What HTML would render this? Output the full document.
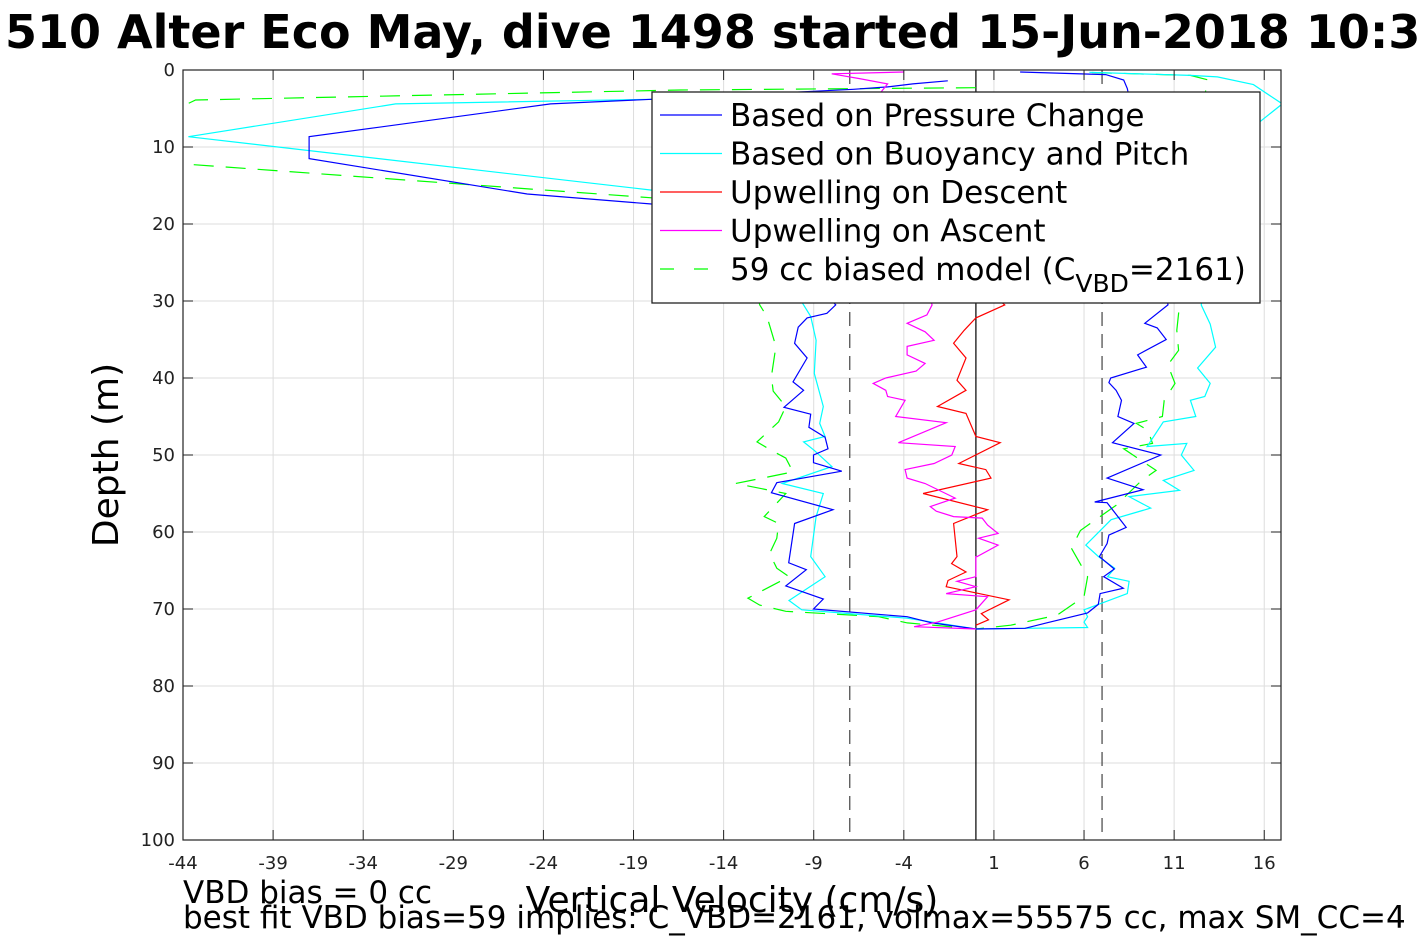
<!DOCTYPE html>
<html><head><meta charset="utf-8"><style>
body{margin:0;background:#fff;overflow:hidden}
svg{display:block;font-family:"DejaVu Sans","Liberation Sans",sans-serif}
</style></head><body>
<svg id="c" width="1417" height="945" viewBox="0 0 1417 945">
<defs><clipPath id="pc"><rect x="183" y="70" width="1098" height="770"/></clipPath></defs>
<text x="5" y="48" font-size="46" font-weight="bold">510 Alter Eco May, dive 1498 started 15-Jun-2018 10:3</text>
<g id="grid"></g><g id="plot" clip-path="url(#pc)"></g><g id="axes"></g>
<text transform="translate(118,455) rotate(-90)" text-anchor="middle" font-size="36">Depth (m)</text>
<text x="732" y="912" text-anchor="middle" font-size="36">Vertical Velocity (cm/s)</text>
<text x="183" y="903" font-size="31">VBD bias = 0 cc</text>
<text x="183" y="928" font-size="31">best fit VBD bias=59 implies: C_VBD=2161, volmax=55575 cc, max SM_CC=4</text>
<g id="legend">
<rect x="652" y="92" width="608" height="211" fill="#fff" stroke="#222" stroke-width="1.3"/>
</g>
</svg>
<script>
const xTicks=[-44,-39,-34,-29,-24,-19,-14,-9,-4,1,6,11,16];
const yTicks=[0,10,20,30,40,50,60,70,80,90,100];
const refLines=[-7,0,7];
const pressV=[-1.56,-3.5,-4.9,-6.8,-18,-23.6,-37,-37,-24.9,-18,-10,-7.78,-8.27,-9.37,-9.86,-10.06,-9.37,-10.15,-9.56,-10.65,-9.17,-9.27,-8.37,-8.21,-9.01,-9.01,-7.44,-11.05,-11.35,-7.93,-10.06,-10.39,-9.41,-10.55,-8.47,-9.01,-3.82,-2.43,0,2.73,3.91,6.2,6.79,6.89,8.18,7.09,7.68,6.85,7.28,7.38,8.34,7.68,7.28,6.59,9.27,7.28,10.26,7.58,8.77,7.88,8.08,7.78,7.38,7.48,9.46,8.97,10.56,10.06,9.37,10.66,10,8.4,8.2,7.2,2.45];
const pressD=[1.4,1.8,2.2,2.5,3.8,4.4,8.66,11.5,16.1,17.4,25,30.5,31.6,32.2,33.4,35.5,37.4,40.5,41.6,43.8,44.7,46.4,47.7,49.2,50,51,52.1,53.6,54.9,57.1,58.9,64,64.9,67,68.7,70,71,71.8,72.6,72.5,71.8,70.5,69.4,68,67.3,65.8,64.8,63.2,61.5,60.4,59.4,57.4,56.2,56.1,54.5,53,50,48.4,45.9,45,42.9,41.6,40.6,40,38.6,37,35,33.5,32.9,30.5,20,2.4,1.3,0.6,0.26];
const buoyV=[-5,-18,-32.2,-43.7,-18,-11,-9.56,-9.17,-8.87,-8.97,-8.47,-8.67,-8.37,-9.56,-8.97,-7.99,-10.75,-8.47,-8.87,-9.17,-8.37,-10.37,-9.66,-3.82,-2.43,0,6.2,6.0,6.2,6.0,8.4,8.5,7.3,7.7,6.8,6.1,7.5,9.7,8.5,11.3,10.4,12.1,11.4,11.7,9.5,10.4,12.2,11.9,12.7,13.0,12.3,13.3,13.0,12.5,13.5,14,17,15.4,13.4,11.9,6.3];
const buoyD=[3.6,3.8,4.4,8.66,15.6,25,30.5,32.0,35.1,39.4,43.7,45.9,47.6,48.3,49.4,51.5,53.7,55.0,58.0,63.2,65.8,68.9,70.1,71.2,71.7,72.6,72.4,71.7,71.0,70.1,68,66.4,65.8,64.7,63.2,61.7,58.4,56.9,55.4,54.6,53.3,52,50,48.5,48.9,45.7,45,42.9,42.4,40.7,38.7,36,33,30.5,20,10,4.4,1.9,0.9,0.7,0.3];
const descV=[-1,-2,-1,1.6,0,-0.65,-1.24,-0.55,-1.05,-0.55,-2.13,-0.55,0,1.35,-0.95,0.55,0.84,-2.93,0.65,-1.24,-1.05,-1.35,-0.55,-1.55,-1.65,1.84,0.3,0.7,0];
const descD=[5,15,25,30.5,32.2,33.8,35.5,37.4,40.3,41.6,43.7,44.6,47.6,48.4,51.1,51.9,53,55,57.1,58.9,63.2,64.1,65.2,66.3,67.1,68.8,70.6,71.4,72.1];
const ascV=[0,-3.43,-2.13,0,0.65,-1.65,0,-1.05,0,0,0.06,1.23,0.15,1.23,0.65,0.35,-1.24,-2.2,-2.53,-1.15,-2.82,-3.82,-3.93,-2.32,-1.34,-1.15,-4.3,-1.65,-4.45,-3.93,-4.9,-5.0,-5.7,-5.0,-3.32,-2.82,-3.82,-3.82,-2.32,-2.82,-3.82,-2.72,-2.43,-4,-6,-4.9,-6.5,-8,-4.0];
const ascD=[72.6,72.3,71.7,70.1,68.4,68,67.1,66.4,65.8,63.2,63.2,61.7,60.8,60.2,59.1,58.2,58,57.3,56.7,55.6,53.7,53,51.9,51.1,50,48.9,48.4,45.8,45,42.9,42.4,41.6,40.7,40,39.1,38.1,37,35.9,35.1,34,32.9,31.8,30.5,20,5,1.8,1.1,0.5,0.26];
const modelV=[0,-16.4,-43.3,-47,-44,-18,-12.5,-12.0,-11.6,-11.1,-11.35,-11.25,-10.55,-10.95,-12.15,-11.35,-10.55,-10.15,-13.33,-10.55,-11.75,-10.95,-11.05,-11.45,-11.05,-10.37,-12.65,-12,-10.55,-5.4,-3.8,0,1.93,4.5,6.0,6.2,5.3,5.8,7.8,9.2,10.0,8.2,9.8,9.55,8.9,10.35,10.45,11.05,10.65,11.25,11.15,11.3,11.5,12.5,12.9,11.9,6.0];
const modelD=[2.3,2.6,3.9,8,12.2,16.6,25,30.5,32.0,35.9,39.8,41.7,43.7,45.7,48.3,49.4,50.4,52.2,53.7,55,58,58.9,60.8,62.8,64.7,65.8,68.6,69.5,70.3,71,71.8,72.6,72.1,70.8,68.4,65.8,62.1,59.8,56.5,53.3,52,49.2,48.5,46.8,45.9,45,42.9,40.7,38.3,36.4,33.8,30.5,20,5,1.3,0.7,0.3];

const X0=183,X1=1281,Y0=70,Y1=840,XMIN=-44,XMAX=16.93,YMAX=100;
const sx=v=>X0+(v-XMIN)/(XMAX-XMIN)*(X1-X0);
const sy=d=>Y0+d/YMAX*(Y1-Y0);
const NS='http://www.w3.org/2000/svg';
function mk(tag,attrs,parent){const e=document.createElementNS(NS,tag);for(const k in attrs)e.setAttribute(k,attrs[k]);parent.appendChild(e);return e;}
const grid=document.getElementById('grid'),plot=document.getElementById('plot'),axes=document.getElementById('axes'),legend=document.getElementById('legend');
xTicks.forEach(t=>{const x=sx(t);
 const g=mk('line',{x1:x,x2:x,y1:Y0,y2:Y1,stroke:'#ddd','stroke-width':1},grid);
 
 mk('line',{x1:x,x2:x,y1:Y1,y2:Y1-10,stroke:'#222','stroke-width':1},axes);
 mk('line',{x1:x,x2:x,y1:Y0,y2:Y0+10,stroke:'#222','stroke-width':1},axes);
 const tx=mk('text',{x:x,y:Y1+29,'text-anchor':'middle','font-size':18,fill:'#222'},axes);tx.textContent=t;
 });
yTicks.forEach(t=>{const y=sy(t);
 const g=mk('line',{x1:X0,x2:X1,y1:y,y2:y,stroke:'#ddd','stroke-width':1},grid);
 
 mk('line',{x1:X0,x2:X0+10,y1:y,y2:y,stroke:'#222','stroke-width':1},axes);
 mk('line',{x1:X1,x2:X1-10,y1:y,y2:y,stroke:'#222','stroke-width':1},axes);
 const tx=mk('text',{x:X0-8,y:y+6,'text-anchor':'end','font-size':18,fill:'#222'},axes);tx.textContent=t;
 });
const box=mk('rect',{x:X0,y:Y0,width:X1-X0,height:Y1-Y0,fill:'none',stroke:'#222','stroke-width':1.2},axes);

refLines.forEach(v=>{const l=mk('line',{x1:sx(v),x2:sx(v),y1:Y0,y2:Y1,stroke:v===0?'#000':'#444','stroke-width':1.2,'stroke-dasharray':v===0?'none':'14,8'},plot);
 });
function series(V,D,color,name,dash){const pts=V.map((v,i)=>sx(v).toFixed(1)+','+sy(D[i]).toFixed(1)).join(' ');
 const p=mk('polyline',{points:pts,fill:'none',stroke:color,'stroke-width':1.2,'stroke-dasharray':dash||'none'},plot);
 }
series(modelV,modelD,'#00ff00','model-line','20,12');
series(buoyV,buoyD,'#00ffff','buoyancy-line');
series(pressV,pressD,'#0000ff','pressure-line');
series(descV,descD,'#ff0000','upwelling-descent-line');
series(ascV,ascD,'#ff00ff','upwelling-ascent-line');
const legendItems=[['Based on Pressure Change','#0000ff'],['Based on Buoyancy and Pitch','#00ffff'],['Upwelling on Descent','#ff0000'],['Upwelling on Ascent','#ff00ff'],['59 cc biased model (C','#00ff00']];
legendItems.forEach((it,i)=>{const y=115+i*38.5;
 const l=mk('line',{x1:660,x2:722,y1:y,y2:y,stroke:it[1],'stroke-width':1.2,'stroke-dasharray':i===4?'14,20':'none'},legend);
 
 const t=mk('text',{x:730,y:y+11,'font-size':31},legend);
 
 t.textContent=it[0];
 if(i===4){const s=mk('tspan',{dy:12,'font-size':25},t);s.textContent='VBD';const s2=mk('tspan',{dy:-12},t);s2.textContent='=2161)';}
});
</script>
</body></html>
